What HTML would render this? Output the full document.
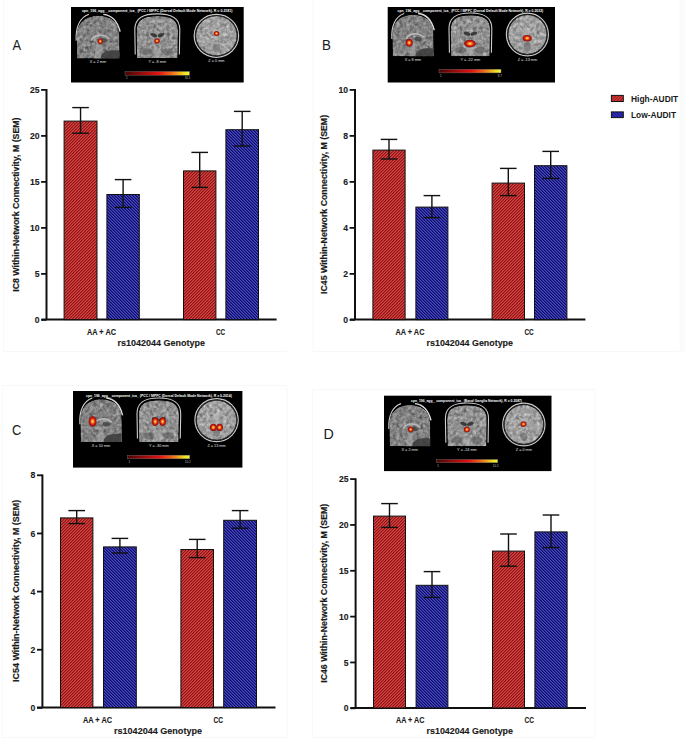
<!DOCTYPE html><html><head><meta charset="utf-8"><style>html,body{margin:0;padding:0;background:#fff;}svg{display:block}</style></head><body>
<svg width="685" height="742" viewBox="0 0 685 742" font-family='"Liberation Sans", sans-serif'>
<defs><pattern id="hR" patternUnits="userSpaceOnUse" x="0" y="0" width="3" height="3"><rect x="0" y="0" width="1" height="1" fill="#8c1616"/><rect x="1" y="0" width="1" height="1" fill="#bc2e2e"/><rect x="2" y="0" width="1" height="1" fill="#d24444"/><rect x="0" y="1" width="1" height="1" fill="#bc2e2e"/><rect x="1" y="1" width="1" height="1" fill="#d24444"/><rect x="2" y="1" width="1" height="1" fill="#8c1616"/><rect x="0" y="2" width="1" height="1" fill="#d24444"/><rect x="1" y="2" width="1" height="1" fill="#8c1616"/><rect x="2" y="2" width="1" height="1" fill="#bc2e2e"/></pattern><pattern id="hB" patternUnits="userSpaceOnUse" x="0" y="0" width="3" height="3"><rect x="0" y="0" width="1" height="1" fill="#0a0a68"/><rect x="1" y="0" width="1" height="1" fill="#2c2c9a"/><rect x="2" y="0" width="1" height="1" fill="#4a4aba"/><rect x="0" y="1" width="1" height="1" fill="#4a4aba"/><rect x="1" y="1" width="1" height="1" fill="#0a0a68"/><rect x="2" y="1" width="1" height="1" fill="#2c2c9a"/><rect x="0" y="2" width="1" height="1" fill="#2c2c9a"/><rect x="1" y="2" width="1" height="1" fill="#4a4aba"/><rect x="2" y="2" width="1" height="1" fill="#0a0a68"/></pattern><pattern id="lR" patternUnits="userSpaceOnUse" width="2.1" height="4" patternTransform="rotate(45)"><rect width="2.1" height="4" fill="#9a1616"/><rect width="1.0" height="4" fill="#e04646"/></pattern><pattern id="lB" patternUnits="userSpaceOnUse" width="2.1" height="4" patternTransform="rotate(-45)"><rect width="2.1" height="4" fill="#0a0a78"/><rect width="1.0" height="4" fill="#4444d8"/></pattern><linearGradient id="cb" x1="0" x2="1" y1="0" y2="0"><stop offset="0" stop-color="#4a0404"/><stop offset="0.52" stop-color="#e41212"/><stop offset="0.72" stop-color="#f06818"/><stop offset="0.92" stop-color="#f2e020"/><stop offset="1" stop-color="#f6f63a"/></linearGradient><radialGradient id="gAx"><stop offset="0" stop-color="#8a8a8a"/><stop offset="1" stop-color="#a8a8a8"/></radialGradient><radialGradient id="gCor"><stop offset="0" stop-color="#8a8a8a"/><stop offset="1" stop-color="#a0a0a0"/></radialGradient><radialGradient id="gSag"><stop offset="0" stop-color="#8a8a8a"/><stop offset="1" stop-color="#9a9a9a"/></radialGradient><filter id="tex" x="0" y="0" width="100%" height="100%" color-interpolation-filters="sRGB"><feTurbulence type="fractalNoise" baseFrequency="0.3" numOctaves="3" seed="7" result="n"/><feColorMatrix in="n" type="matrix" values="0.33 0.33 0.33 0 0 0.33 0.33 0.33 0 0 0.33 0.33 0.33 0 0 0 0 0 0 1" result="g"/><feComposite in="SourceGraphic" in2="g" operator="arithmetic" k1="0" k2="1" k3="0.9" k4="-0.45" result="m"/><feComposite in="m" in2="SourceGraphic" operator="in"/></filter><radialGradient id="blobG"><stop offset="0" stop-color="#ffe868"/><stop offset="0.25" stop-color="#f8a030"/><stop offset="0.55" stop-color="#e02a10"/><stop offset="0.85" stop-color="#a01010"/><stop offset="1" stop-color="#701010" stop-opacity="0.85"/></radialGradient></defs>
<g stroke="#f8f8f8" stroke-width="1" fill="none"><polyline points="3.5,0 3.5,351.5 287,351.5"/><polyline points="313,0 313,351.5 679.5,351.5"/><polyline points="2.5,385.5 2.5,737.5 287,737.5 287,385.5 2.5,385.5"/><polyline points="312.5,389.5 312.5,737.5 595,737.5 595,389.5 312.5,389.5"/></g>
<rect x="679.5" y="0" width="6" height="351.5" fill="#fbfbfb"/>
<text transform="translate(12.6,50.4) scale(0.83,1)" x="0" y="0" font-size="15.5" fill="#1a1a1a">A</text>
<rect x="71" y="7" width="172.7" height="75.5" fill="#000"/>
<path d="M77.11,58.4 L76.66,36.15 C76.66,21.91 86.62,15.68 97.95,15.68 C110.63,15.68 119.24,21.91 119.24,33.93 L119.69,58.4 Z" fill="#828282" filter="url(#tex)"/><path d="M76.21,40.6 C75.3,27.25 79.83,17.46 88.89,14.35" fill="none" stroke="#cfcfcf" stroke-width="1.1"/><path d="M103.39,14.35 C111.54,15.23 117.43,20.57 120.15,31.7" fill="none" stroke="#dedede" stroke-width="1.4"/><path d="M100.22,58.4 C101.57,51.72 107.01,49.5 119.24,50.39 L119.24,58.4 Z" fill="#3a3a3a" opacity="0.85"/><path d="M91.16,40.6 C93.42,34.37 103.39,33.48 109.27,38.82" fill="none" stroke="#b8b8b8" stroke-width="1.6"/><ellipse cx="103.39" cy="40.6" rx="3.62" ry="2.23" fill="#3a3a3a" opacity="0.7"/><path d="M96.14,44.16 L94.33,58.4 L100.67,58.4 L100.67,45.05 Z" fill="#a6a6a6" opacity="0.6"/>
<path d="M137.05,58 L136.6,30.66 C136.6,19.19 144.7,16.11 157.3,16.11 C169.9,16.11 178,19.19 178,30.66 L177.55,58 Z" fill="#929292" filter="url(#tex)"/><path d="M135.25,54.47 L134.8,29.78 C134.8,17.43 143.8,13.9 157.3,13.9 C170.8,13.9 179.8,17.43 179.8,29.78 L179.35,54.47" fill="none" stroke="#cdcdcd" stroke-width="1.1"/><ellipse cx="153.7" cy="35.07" rx="3.6" ry="1.76" fill="#2c2c2c" opacity="0.85" transform="rotate(20 153.7 35.07)"/><ellipse cx="160.9" cy="35.07" rx="3.6" ry="1.76" fill="#2c2c2c" opacity="0.85" transform="rotate(-20 160.9 35.07)"/><ellipse cx="146.95" cy="51.83" rx="5.85" ry="3.53" fill="#5a5a5a" opacity="0.55"/><ellipse cx="167.65" cy="51.83" rx="5.85" ry="3.53" fill="#5a5a5a" opacity="0.55"/><ellipse cx="157.3" cy="52.71" rx="3.6" ry="4.41" fill="#b0b0b0" opacity="0.5"/>
<ellipse cx="216.4" cy="35.8" rx="22.2" ry="21.5" fill="none" stroke="#c8c8c8" stroke-width="1.2"/><ellipse cx="216.4" cy="35.8" rx="21.2" ry="20.5" fill="#303030"/><ellipse cx="216.4" cy="35.8" rx="20.4" ry="19.7" fill="#a0a0a0" filter="url(#tex)"/><path d="M210.07,27.04 Q216.4,32.3 222.73,27.04 L219.11,32.3 L217.3,40.18 L215.5,40.18 L213.69,32.3 Z" fill="#bdbdbd" opacity="0.6"/><ellipse cx="216.4" cy="48.06" rx="3.62" ry="4.38" fill="#6a6a6a" opacity="0.6"/>
<ellipse cx="100.3" cy="41.3" rx="2.6" ry="3" fill="url(#blobG)"/>
<ellipse cx="157" cy="40.9" rx="2.8" ry="2.6" fill="url(#blobG)"/>
<ellipse cx="216.5" cy="33.5" rx="2.8" ry="2.5" fill="url(#blobG)"/>
<text x="81.9" y="12.2" font-size="3.8" font-weight="bold" fill="#ffffff" textLength="150.6" lengthAdjust="spacingAndGlyphs">cpn_196_agg__component_ica_ (PCC / MPFC (Dorsal Default Mode Network), R = 0.2181)</text>
<text x="97.95" y="63" font-size="3.8" fill="#e0e0e0" text-anchor="middle">X = 2 mm</text>
<text x="157.3" y="62.6" font-size="3.8" fill="#e0e0e0" text-anchor="middle">Y = -8 mm</text>
<text x="216.4" y="62.3" font-size="3.8" fill="#e0e0e0" text-anchor="middle">Z = 0 mm</text>
<rect x="125" y="71.5" width="64.5" height="3.7" fill="url(#cb)" stroke="#777" stroke-width="0.4"/>
<text x="126" y="79" font-size="3" fill="#bbb">1</text>
<text x="190.5" y="79" font-size="3" fill="#bbb" text-anchor="end">10.1</text>
<line x1="46.5" y1="89.1" x2="46.5" y2="319.6" stroke="#111" stroke-width="2"/>
<line x1="41.6" y1="319.6" x2="276.6" y2="319.6" stroke="#111" stroke-width="2"/>
<line x1="41.1" y1="319.9" x2="46.5" y2="319.9" stroke="#111" stroke-width="1.8"/>
<text x="39.5" y="323.1" font-size="9.8" font-weight="bold" text-anchor="end" fill="#1a1a1a" stroke="#1a1a1a" stroke-width="0.12" transform="translate(39.5,0) scale(0.88,1) translate(-39.5,0)">0</text>
<line x1="41.1" y1="273.9" x2="46.5" y2="273.9" stroke="#111" stroke-width="1.8"/>
<text x="39.5" y="277.1" font-size="9.8" font-weight="bold" text-anchor="end" fill="#1a1a1a" stroke="#1a1a1a" stroke-width="0.12" transform="translate(39.5,0) scale(0.88,1) translate(-39.5,0)">5</text>
<line x1="41.1" y1="227.9" x2="46.5" y2="227.9" stroke="#111" stroke-width="1.8"/>
<text x="39.5" y="231.1" font-size="9.8" font-weight="bold" text-anchor="end" fill="#1a1a1a" stroke="#1a1a1a" stroke-width="0.12" transform="translate(39.5,0) scale(0.88,1) translate(-39.5,0)">10</text>
<line x1="41.1" y1="181.9" x2="46.5" y2="181.9" stroke="#111" stroke-width="1.8"/>
<text x="39.5" y="185.1" font-size="9.8" font-weight="bold" text-anchor="end" fill="#1a1a1a" stroke="#1a1a1a" stroke-width="0.12" transform="translate(39.5,0) scale(0.88,1) translate(-39.5,0)">15</text>
<line x1="41.1" y1="135.9" x2="46.5" y2="135.9" stroke="#111" stroke-width="1.8"/>
<text x="39.5" y="139.1" font-size="9.8" font-weight="bold" text-anchor="end" fill="#1a1a1a" stroke="#1a1a1a" stroke-width="0.12" transform="translate(39.5,0) scale(0.88,1) translate(-39.5,0)">20</text>
<line x1="41.1" y1="89.9" x2="46.5" y2="89.9" stroke="#111" stroke-width="1.8"/>
<text x="39.5" y="93.1" font-size="9.8" font-weight="bold" text-anchor="end" fill="#1a1a1a" stroke="#1a1a1a" stroke-width="0.12" transform="translate(39.5,0) scale(0.88,1) translate(-39.5,0)">25</text>
<rect x="64.1" y="121.1" width="32.9" height="198.5" fill="url(#hR)" stroke="#111" stroke-width="1"/>
<line x1="80.55" y1="107.6" x2="80.55" y2="133.2" stroke="#111" stroke-width="1.4"/>
<line x1="72.25" y1="107.6" x2="88.85" y2="107.6" stroke="#111" stroke-width="1.4"/>
<line x1="72.25" y1="133.2" x2="88.85" y2="133.2" stroke="#111" stroke-width="1.4"/>
<rect x="106.9" y="194.5" width="32.4" height="125.1" fill="url(#hB)" stroke="#111" stroke-width="1"/>
<line x1="123.1" y1="179.6" x2="123.1" y2="207.4" stroke="#111" stroke-width="1.4"/>
<line x1="114.8" y1="179.6" x2="131.4" y2="179.6" stroke="#111" stroke-width="1.4"/>
<line x1="114.8" y1="207.4" x2="131.4" y2="207.4" stroke="#111" stroke-width="1.4"/>
<rect x="183.5" y="170.9" width="32.4" height="148.7" fill="url(#hR)" stroke="#111" stroke-width="1"/>
<line x1="199.7" y1="152.4" x2="199.7" y2="187.4" stroke="#111" stroke-width="1.4"/>
<line x1="191.4" y1="152.4" x2="208" y2="152.4" stroke="#111" stroke-width="1.4"/>
<line x1="191.4" y1="187.4" x2="208" y2="187.4" stroke="#111" stroke-width="1.4"/>
<rect x="225.9" y="129.7" width="32.6" height="189.9" fill="url(#hB)" stroke="#111" stroke-width="1"/>
<line x1="242.2" y1="111.4" x2="242.2" y2="146" stroke="#111" stroke-width="1.4"/>
<line x1="233.9" y1="111.4" x2="250.5" y2="111.4" stroke="#111" stroke-width="1.4"/>
<line x1="233.9" y1="146" x2="250.5" y2="146" stroke="#111" stroke-width="1.4"/>
<text x="87" y="335" font-size="9" font-weight="bold" stroke="#1a1a1a" stroke-width="0.12" textLength="29" lengthAdjust="spacingAndGlyphs" fill="#1a1a1a">AA + AC</text>
<text x="216" y="335" font-size="9" font-weight="bold" stroke="#1a1a1a" stroke-width="0.12" textLength="9" lengthAdjust="spacingAndGlyphs" fill="#1a1a1a">CC</text>
<text x="117.6" y="345.6" font-size="9" font-weight="bold" stroke="#1a1a1a" stroke-width="0.12" textLength="87.4" lengthAdjust="spacingAndGlyphs" fill="#1a1a1a">rs1042044 Genotype</text>
<text transform="translate(18.8,291.8) rotate(-90)" x="0" y="0" font-size="8.6" font-weight="bold" stroke="#1a1a1a" stroke-width="0.18" textLength="174.3" lengthAdjust="spacingAndGlyphs" fill="#1a1a1a">IC8 Within-Network Connectivity, M (SEM)</text>
<text transform="translate(322,50.1) scale(0.86,1)" x="0" y="0" font-size="15.5" fill="#1a1a1a">B</text>
<rect x="387.7" y="7" width="167.3" height="75.5" fill="#000"/>
<path d="M392.75,56.2 L392.31,34.6 C392.31,20.78 401.93,14.73 412.85,14.73 C425.09,14.73 433.39,20.78 433.39,32.44 L433.83,56.2 Z" fill="#828282" filter="url(#tex)"/><path d="M391.87,38.92 C391,25.96 395.37,16.46 404.11,13.43" fill="none" stroke="#cfcfcf" stroke-width="1.1"/><path d="M418.09,13.43 C425.96,14.3 431.64,19.48 434.26,30.28" fill="none" stroke="#dedede" stroke-width="1.4"/><path d="M415.03,56.2 C416.35,49.72 421.59,47.56 433.39,48.42 L433.39,56.2 Z" fill="#3a3a3a" opacity="0.85"/><path d="M406.3,38.92 C408.48,32.87 418.09,32.01 423.77,37.19" fill="none" stroke="#b8b8b8" stroke-width="1.6"/><ellipse cx="418.09" cy="38.92" rx="3.5" ry="2.16" fill="#3a3a3a" opacity="0.7"/><path d="M411.1,42.38 L409.35,56.2 L415.47,56.2 L415.47,43.24 Z" fill="#a6a6a6" opacity="0.6"/>
<path d="M451.14,56.2 L450.71,29.42 C450.71,18.18 458.42,15.16 470.4,15.16 C482.38,15.16 490.09,18.18 490.09,29.42 L489.66,56.2 Z" fill="#929292" filter="url(#tex)"/><path d="M449.43,52.74 L449,28.55 C449,16.46 457.56,13 470.4,13 C483.24,13 491.8,16.46 491.8,28.55 L491.37,52.74" fill="none" stroke="#cdcdcd" stroke-width="1.1"/><ellipse cx="466.98" cy="33.74" rx="3.42" ry="1.73" fill="#2c2c2c" opacity="0.85" transform="rotate(20 466.98 33.74)"/><ellipse cx="473.82" cy="33.74" rx="3.42" ry="1.73" fill="#2c2c2c" opacity="0.85" transform="rotate(-20 473.82 33.74)"/><ellipse cx="460.56" cy="50.15" rx="5.56" ry="3.46" fill="#5a5a5a" opacity="0.55"/><ellipse cx="480.24" cy="50.15" rx="5.56" ry="3.46" fill="#5a5a5a" opacity="0.55"/><ellipse cx="470.4" cy="51.02" rx="3.42" ry="4.32" fill="#b0b0b0" opacity="0.5"/>
<ellipse cx="527.4" cy="34.5" rx="21" ry="21.3" fill="none" stroke="#c8c8c8" stroke-width="1.2"/><ellipse cx="527.4" cy="34.5" rx="20" ry="20.3" fill="#303030"/><ellipse cx="527.4" cy="34.5" rx="19.2" ry="19.5" fill="#a0a0a0" filter="url(#tex)"/><path d="M521.41,25.82 Q527.4,31.03 533.39,25.82 L529.97,31.03 L528.26,38.84 L526.54,38.84 L524.83,31.03 Z" fill="#bdbdbd" opacity="0.6"/><ellipse cx="527.4" cy="46.65" rx="3.42" ry="4.34" fill="#6a6a6a" opacity="0.6"/>
<ellipse cx="409.2" cy="42.8" rx="3.6" ry="4" fill="url(#blobG)"/>
<ellipse cx="470" cy="43.6" rx="6" ry="3.8" fill="url(#blobG)"/>
<ellipse cx="527.2" cy="38.2" rx="4.6" ry="3.2" fill="url(#blobG)"/>
<text x="397.5" y="12" font-size="3.8" font-weight="bold" fill="#ffffff" textLength="145.7" lengthAdjust="spacingAndGlyphs">cpn_196_agg__component_ica_ (PCC / MPFC (Dorsal Default Mode Network), R = 0.2032)</text>
<text x="412.85" y="60.8" font-size="3.8" fill="#e0e0e0" text-anchor="middle">X = 8 mm</text>
<text x="470.4" y="60.8" font-size="3.8" fill="#e0e0e0" text-anchor="middle">Y = -22 mm</text>
<text x="527.4" y="60.8" font-size="3.8" fill="#e0e0e0" text-anchor="middle">Z = -13 mm</text>
<rect x="439" y="69.3" width="62" height="3.6" fill="url(#cb)" stroke="#777" stroke-width="0.4"/>
<text x="440" y="76.7" font-size="3" fill="#bbb">1</text>
<text x="502" y="76.7" font-size="3" fill="#bbb" text-anchor="end">8.7</text>
<line x1="355" y1="89.1" x2="355" y2="319.6" stroke="#111" stroke-width="2"/>
<line x1="350" y1="319.6" x2="585.4" y2="319.6" stroke="#111" stroke-width="2"/>
<line x1="349.6" y1="319.9" x2="355" y2="319.9" stroke="#111" stroke-width="1.8"/>
<text x="348" y="323.1" font-size="9.8" font-weight="bold" text-anchor="end" fill="#1a1a1a" stroke="#1a1a1a" stroke-width="0.12" transform="translate(348,0) scale(0.88,1) translate(-348,0)">0</text>
<line x1="349.6" y1="273.9" x2="355" y2="273.9" stroke="#111" stroke-width="1.8"/>
<text x="348" y="277.1" font-size="9.8" font-weight="bold" text-anchor="end" fill="#1a1a1a" stroke="#1a1a1a" stroke-width="0.12" transform="translate(348,0) scale(0.88,1) translate(-348,0)">2</text>
<line x1="349.6" y1="227.9" x2="355" y2="227.9" stroke="#111" stroke-width="1.8"/>
<text x="348" y="231.1" font-size="9.8" font-weight="bold" text-anchor="end" fill="#1a1a1a" stroke="#1a1a1a" stroke-width="0.12" transform="translate(348,0) scale(0.88,1) translate(-348,0)">4</text>
<line x1="349.6" y1="181.9" x2="355" y2="181.9" stroke="#111" stroke-width="1.8"/>
<text x="348" y="185.1" font-size="9.8" font-weight="bold" text-anchor="end" fill="#1a1a1a" stroke="#1a1a1a" stroke-width="0.12" transform="translate(348,0) scale(0.88,1) translate(-348,0)">6</text>
<line x1="349.6" y1="135.9" x2="355" y2="135.9" stroke="#111" stroke-width="1.8"/>
<text x="348" y="139.1" font-size="9.8" font-weight="bold" text-anchor="end" fill="#1a1a1a" stroke="#1a1a1a" stroke-width="0.12" transform="translate(348,0) scale(0.88,1) translate(-348,0)">8</text>
<line x1="349.6" y1="89.9" x2="355" y2="89.9" stroke="#111" stroke-width="1.8"/>
<text x="348" y="93.1" font-size="9.8" font-weight="bold" text-anchor="end" fill="#1a1a1a" stroke="#1a1a1a" stroke-width="0.12" transform="translate(348,0) scale(0.88,1) translate(-348,0)">10</text>
<rect x="372.9" y="150.1" width="32.2" height="169.5" fill="url(#hR)" stroke="#111" stroke-width="1"/>
<line x1="389" y1="139.4" x2="389" y2="159" stroke="#111" stroke-width="1.4"/>
<line x1="380.7" y1="139.4" x2="397.3" y2="139.4" stroke="#111" stroke-width="1.4"/>
<line x1="380.7" y1="159" x2="397.3" y2="159" stroke="#111" stroke-width="1.4"/>
<rect x="415.9" y="207.1" width="32" height="112.5" fill="url(#hB)" stroke="#111" stroke-width="1"/>
<line x1="431.9" y1="195.6" x2="431.9" y2="217.6" stroke="#111" stroke-width="1.4"/>
<line x1="423.6" y1="195.6" x2="440.2" y2="195.6" stroke="#111" stroke-width="1.4"/>
<line x1="423.6" y1="217.6" x2="440.2" y2="217.6" stroke="#111" stroke-width="1.4"/>
<rect x="492.1" y="183.1" width="32.4" height="136.5" fill="url(#hR)" stroke="#111" stroke-width="1"/>
<line x1="508.3" y1="168.4" x2="508.3" y2="195.6" stroke="#111" stroke-width="1.4"/>
<line x1="500" y1="168.4" x2="516.6" y2="168.4" stroke="#111" stroke-width="1.4"/>
<line x1="500" y1="195.6" x2="516.6" y2="195.6" stroke="#111" stroke-width="1.4"/>
<rect x="534.5" y="165.7" width="32.4" height="153.9" fill="url(#hB)" stroke="#111" stroke-width="1"/>
<line x1="550.7" y1="151.4" x2="550.7" y2="178.4" stroke="#111" stroke-width="1.4"/>
<line x1="542.4" y1="151.4" x2="559" y2="151.4" stroke="#111" stroke-width="1.4"/>
<line x1="542.4" y1="178.4" x2="559" y2="178.4" stroke="#111" stroke-width="1.4"/>
<text x="395.6" y="335" font-size="9" font-weight="bold" stroke="#1a1a1a" stroke-width="0.12" textLength="28.8" lengthAdjust="spacingAndGlyphs" fill="#1a1a1a">AA + AC</text>
<text x="524.4" y="335" font-size="9" font-weight="bold" stroke="#1a1a1a" stroke-width="0.12" textLength="9.2" lengthAdjust="spacingAndGlyphs" fill="#1a1a1a">CC</text>
<text x="426.6" y="345.6" font-size="9" font-weight="bold" stroke="#1a1a1a" stroke-width="0.12" textLength="86.4" lengthAdjust="spacingAndGlyphs" fill="#1a1a1a">rs1042044 Genotype</text>
<text transform="translate(327.3,294) rotate(-90)" x="0" y="0" font-size="8.6" font-weight="bold" stroke="#1a1a1a" stroke-width="0.18" textLength="179.1" lengthAdjust="spacingAndGlyphs" fill="#1a1a1a">IC45 Within-Network Connectivity, M (SEM)</text>
<text transform="translate(12,434.8) scale(0.83,1)" x="0" y="0" font-size="15.5" fill="#1a1a1a">C</text>
<rect x="73" y="391" width="169.4" height="76.6" fill="#000"/>
<path d="M80.76,442 L80.32,419.75 C80.32,405.51 90,399.28 101,399.28 C113.32,399.28 121.68,405.51 121.68,417.52 L122.12,442 Z" fill="#828282" filter="url(#tex)"/><path d="M79.88,424.2 C79,410.85 83.4,401.06 92.2,397.94" fill="none" stroke="#cfcfcf" stroke-width="1.1"/><path d="M106.28,397.94 C114.2,398.83 119.92,404.18 122.56,415.3" fill="none" stroke="#dedede" stroke-width="1.4"/><path d="M103.2,442 C104.52,435.32 109.8,433.1 121.68,433.99 L121.68,442 Z" fill="#3a3a3a" opacity="0.85"/><path d="M94.4,424.2 C96.6,417.97 106.28,417.08 112,422.42" fill="none" stroke="#b8b8b8" stroke-width="1.6"/><ellipse cx="106.28" cy="424.2" rx="3.52" ry="2.23" fill="#3a3a3a" opacity="0.7"/><path d="M99.24,427.76 L97.48,442 L103.64,442 L103.64,428.65 Z" fill="#a6a6a6" opacity="0.6"/>
<path d="M139.19,442 L138.75,414.72 C138.75,403.28 146.61,400.2 158.85,400.2 C171.09,400.2 178.95,403.28 178.95,414.72 L178.51,442 Z" fill="#929292" filter="url(#tex)"/><path d="M137.44,438.48 L137,413.84 C137,401.52 145.74,398 158.85,398 C171.96,398 180.7,401.52 180.7,413.84 L180.26,438.48" fill="none" stroke="#cdcdcd" stroke-width="1.1"/><ellipse cx="155.35" cy="419.12" rx="3.5" ry="1.76" fill="#2c2c2c" opacity="0.85" transform="rotate(20 155.35 419.12)"/><ellipse cx="162.35" cy="419.12" rx="3.5" ry="1.76" fill="#2c2c2c" opacity="0.85" transform="rotate(-20 162.35 419.12)"/><ellipse cx="148.8" cy="435.84" rx="5.68" ry="3.52" fill="#5a5a5a" opacity="0.55"/><ellipse cx="168.9" cy="435.84" rx="5.68" ry="3.52" fill="#5a5a5a" opacity="0.55"/><ellipse cx="158.85" cy="436.72" rx="3.5" ry="4.4" fill="#b0b0b0" opacity="0.5"/>
<ellipse cx="216.55" cy="420.1" rx="21.65" ry="21.5" fill="none" stroke="#c8c8c8" stroke-width="1.2"/><ellipse cx="216.55" cy="420.1" rx="20.65" ry="20.5" fill="#303030"/><ellipse cx="216.55" cy="420.1" rx="19.85" ry="19.7" fill="#a0a0a0" filter="url(#tex)"/><path d="M210.38,411.34 Q216.55,416.6 222.72,411.34 L219.2,416.6 L217.43,424.48 L215.67,424.48 L213.9,416.6 Z" fill="#bdbdbd" opacity="0.6"/><ellipse cx="216.55" cy="432.36" rx="3.53" ry="4.38" fill="#6a6a6a" opacity="0.6"/>
<ellipse cx="92.6" cy="421.4" rx="4" ry="5.4" fill="url(#blobG)"/>
<ellipse cx="155.2" cy="421.6" rx="3.4" ry="4.4" fill="url(#blobG)"/>
<ellipse cx="162.6" cy="421.6" rx="3.4" ry="4.4" fill="url(#blobG)"/>
<ellipse cx="213.3" cy="427.4" rx="3.4" ry="3.6" fill="url(#blobG)"/>
<ellipse cx="219.6" cy="427.4" rx="3.4" ry="3.6" fill="url(#blobG)"/>
<text x="86" y="396.8" font-size="3.8" font-weight="bold" fill="#ffffff" textLength="145.8" lengthAdjust="spacingAndGlyphs">cpn_196_agg__component_ica_ (PCC / MPFC (Dorsal Default Mode Network), R = 0.2014)</text>
<text x="101" y="446.6" font-size="3.8" fill="#e0e0e0" text-anchor="middle">X = 10 mm</text>
<text x="158.85" y="446.6" font-size="3.8" fill="#e0e0e0" text-anchor="middle">Y = -30 mm</text>
<text x="216.55" y="446.6" font-size="3.8" fill="#e0e0e0" text-anchor="middle">Z = 13 mm</text>
<rect x="127.4" y="455.2" width="62.3" height="3.6" fill="url(#cb)" stroke="#777" stroke-width="0.4"/>
<text x="128.4" y="462.6" font-size="3" fill="#bbb">1</text>
<text x="190.7" y="462.6" font-size="3" fill="#bbb" text-anchor="end">10.2</text>
<line x1="42.4" y1="474.5" x2="42.4" y2="707.6" stroke="#111" stroke-width="2"/>
<line x1="37" y1="707.6" x2="275.5" y2="707.6" stroke="#111" stroke-width="2"/>
<line x1="37" y1="707.9" x2="42.4" y2="707.9" stroke="#111" stroke-width="1.8"/>
<text x="35.4" y="711.1" font-size="9.8" font-weight="bold" text-anchor="end" fill="#1a1a1a" stroke="#1a1a1a" stroke-width="0.12" transform="translate(35.4,0) scale(0.88,1) translate(-35.4,0)">0</text>
<line x1="37" y1="649.75" x2="42.4" y2="649.75" stroke="#111" stroke-width="1.8"/>
<text x="35.4" y="652.95" font-size="9.8" font-weight="bold" text-anchor="end" fill="#1a1a1a" stroke="#1a1a1a" stroke-width="0.12" transform="translate(35.4,0) scale(0.88,1) translate(-35.4,0)">2</text>
<line x1="37" y1="591.6" x2="42.4" y2="591.6" stroke="#111" stroke-width="1.8"/>
<text x="35.4" y="594.8" font-size="9.8" font-weight="bold" text-anchor="end" fill="#1a1a1a" stroke="#1a1a1a" stroke-width="0.12" transform="translate(35.4,0) scale(0.88,1) translate(-35.4,0)">4</text>
<line x1="37" y1="533.45" x2="42.4" y2="533.45" stroke="#111" stroke-width="1.8"/>
<text x="35.4" y="536.65" font-size="9.8" font-weight="bold" text-anchor="end" fill="#1a1a1a" stroke="#1a1a1a" stroke-width="0.12" transform="translate(35.4,0) scale(0.88,1) translate(-35.4,0)">6</text>
<line x1="37" y1="475.3" x2="42.4" y2="475.3" stroke="#111" stroke-width="1.8"/>
<text x="35.4" y="478.5" font-size="9.8" font-weight="bold" text-anchor="end" fill="#1a1a1a" stroke="#1a1a1a" stroke-width="0.12" transform="translate(35.4,0) scale(0.88,1) translate(-35.4,0)">8</text>
<rect x="60.5" y="517.9" width="32.4" height="189.7" fill="url(#hR)" stroke="#111" stroke-width="1"/>
<line x1="76.7" y1="510.6" x2="76.7" y2="523.6" stroke="#111" stroke-width="1.4"/>
<line x1="68.4" y1="510.6" x2="85" y2="510.6" stroke="#111" stroke-width="1.4"/>
<line x1="68.4" y1="523.6" x2="85" y2="523.6" stroke="#111" stroke-width="1.4"/>
<rect x="103.5" y="546.9" width="32.8" height="160.7" fill="url(#hB)" stroke="#111" stroke-width="1"/>
<line x1="119.9" y1="538.4" x2="119.9" y2="553" stroke="#111" stroke-width="1.4"/>
<line x1="111.6" y1="538.4" x2="128.2" y2="538.4" stroke="#111" stroke-width="1.4"/>
<line x1="111.6" y1="553" x2="128.2" y2="553" stroke="#111" stroke-width="1.4"/>
<rect x="180.9" y="549.5" width="32.6" height="158.1" fill="url(#hR)" stroke="#111" stroke-width="1"/>
<line x1="197.2" y1="539.4" x2="197.2" y2="557.6" stroke="#111" stroke-width="1.4"/>
<line x1="188.9" y1="539.4" x2="205.5" y2="539.4" stroke="#111" stroke-width="1.4"/>
<line x1="188.9" y1="557.6" x2="205.5" y2="557.6" stroke="#111" stroke-width="1.4"/>
<rect x="223.7" y="520.3" width="32.8" height="187.3" fill="url(#hB)" stroke="#111" stroke-width="1"/>
<line x1="240.1" y1="510.6" x2="240.1" y2="528.2" stroke="#111" stroke-width="1.4"/>
<line x1="231.8" y1="510.6" x2="248.4" y2="510.6" stroke="#111" stroke-width="1.4"/>
<line x1="231.8" y1="528.2" x2="248.4" y2="528.2" stroke="#111" stroke-width="1.4"/>
<text x="83" y="723" font-size="9" font-weight="bold" stroke="#1a1a1a" stroke-width="0.12" textLength="29" lengthAdjust="spacingAndGlyphs" fill="#1a1a1a">AA + AC</text>
<text x="213.6" y="723" font-size="9" font-weight="bold" stroke="#1a1a1a" stroke-width="0.12" textLength="9.5" lengthAdjust="spacingAndGlyphs" fill="#1a1a1a">CC</text>
<text x="114" y="734" font-size="9" font-weight="bold" stroke="#1a1a1a" stroke-width="0.12" textLength="88" lengthAdjust="spacingAndGlyphs" fill="#1a1a1a">rs1042044 Genotype</text>
<text transform="translate(18.8,681.9) rotate(-90)" x="0" y="0" font-size="8.6" font-weight="bold" stroke="#1a1a1a" stroke-width="0.18" textLength="182" lengthAdjust="spacingAndGlyphs" fill="#1a1a1a">IC54 Within-Network Connectivity, M (SEM)</text>
<text transform="translate(323.4,438.9) scale(0.92,1)" x="0" y="0" font-size="15.5" fill="#1a1a1a">D</text>
<rect x="384" y="395.7" width="167.5" height="75.4" fill="#000"/>
<path d="M389.74,446.3 L389.3,424.75 C389.3,410.96 398.85,404.92 409.7,404.92 C421.85,404.92 430.1,410.96 430.1,422.6 L430.53,446.3 Z" fill="#828282" filter="url(#tex)"/><path d="M388.87,429.06 C388,416.13 392.34,406.65 401.02,403.63" fill="none" stroke="#cfcfcf" stroke-width="1.1"/><path d="M414.91,403.63 C422.72,404.49 428.36,409.66 430.97,420.44" fill="none" stroke="#dedede" stroke-width="1.4"/><path d="M411.87,446.3 C413.17,439.84 418.38,437.68 430.1,438.54 L430.1,446.3 Z" fill="#3a3a3a" opacity="0.85"/><path d="M403.19,429.06 C405.36,423.03 414.91,422.16 420.55,427.34" fill="none" stroke="#b8b8b8" stroke-width="1.6"/><ellipse cx="414.91" cy="429.06" rx="3.47" ry="2.16" fill="#3a3a3a" opacity="0.7"/><path d="M407.96,432.51 L406.23,446.3 L412.3,446.3 L412.3,433.37 Z" fill="#a6a6a6" opacity="0.6"/>
<path d="M447.55,446.3 L447.12,419.45 C447.12,408.2 454.88,405.17 466.95,405.17 C479.02,405.17 486.78,408.2 486.78,419.45 L486.35,446.3 Z" fill="#929292" filter="url(#tex)"/><path d="M445.83,442.84 L445.4,418.59 C445.4,406.46 454.02,403 466.95,403 C479.88,403 488.5,406.46 488.5,418.59 L488.07,442.84" fill="none" stroke="#cdcdcd" stroke-width="1.1"/><ellipse cx="463.5" cy="423.78" rx="3.45" ry="1.73" fill="#2c2c2c" opacity="0.85" transform="rotate(20 463.5 423.78)"/><ellipse cx="470.4" cy="423.78" rx="3.45" ry="1.73" fill="#2c2c2c" opacity="0.85" transform="rotate(-20 470.4 423.78)"/><ellipse cx="457.04" cy="440.24" rx="5.6" ry="3.46" fill="#5a5a5a" opacity="0.55"/><ellipse cx="476.86" cy="440.24" rx="5.6" ry="3.46" fill="#5a5a5a" opacity="0.55"/><ellipse cx="466.95" cy="441.1" rx="3.45" ry="4.33" fill="#b0b0b0" opacity="0.5"/>
<ellipse cx="523.85" cy="424.55" rx="21.15" ry="21.35" fill="none" stroke="#c8c8c8" stroke-width="1.2"/><ellipse cx="523.85" cy="424.55" rx="20.15" ry="20.35" fill="#303030"/><ellipse cx="523.85" cy="424.55" rx="19.35" ry="19.55" fill="#a0a0a0" filter="url(#tex)"/><path d="M517.82,415.85 Q523.85,421.07 529.88,415.85 L526.44,421.07 L524.71,428.9 L522.99,428.9 L521.26,421.07 Z" fill="#bdbdbd" opacity="0.6"/><ellipse cx="523.85" cy="436.73" rx="3.45" ry="4.35" fill="#6a6a6a" opacity="0.6"/>
<ellipse cx="410.7" cy="429.5" rx="2.6" ry="3" fill="url(#blobG)"/>
<ellipse cx="466.9" cy="429.5" rx="3" ry="3" fill="url(#blobG)"/>
<ellipse cx="523.5" cy="424.1" rx="3" ry="2.8" fill="url(#blobG)"/>
<text x="411.1" y="401.6" font-size="3.8" font-weight="bold" fill="#ffffff" textLength="110.9" lengthAdjust="spacingAndGlyphs">cpn_196_agg__component_ica_ (Basal Ganglia Network), R = 0.2087)</text>
<text x="409.7" y="450.9" font-size="3.8" fill="#e0e0e0" text-anchor="middle">X = 2 mm</text>
<text x="466.95" y="450.9" font-size="3.8" fill="#e0e0e0" text-anchor="middle">Y = -24 mm</text>
<text x="523.85" y="450.9" font-size="3.8" fill="#e0e0e0" text-anchor="middle">Z = 0 mm</text>
<rect x="436.2" y="459.5" width="61.5" height="3.2" fill="url(#cb)" stroke="#777" stroke-width="0.4"/>
<text x="437.2" y="466.5" font-size="3" fill="#bbb">1</text>
<text x="498.7" y="466.5" font-size="3" fill="#bbb" text-anchor="end">10.1</text>
<line x1="355.6" y1="478.3" x2="355.6" y2="708" stroke="#111" stroke-width="2"/>
<line x1="350.5" y1="708" x2="586" y2="708" stroke="#111" stroke-width="2"/>
<line x1="350.2" y1="708.3" x2="355.6" y2="708.3" stroke="#111" stroke-width="1.8"/>
<text x="348.6" y="711.5" font-size="9.8" font-weight="bold" text-anchor="end" fill="#1a1a1a" stroke="#1a1a1a" stroke-width="0.12" transform="translate(348.6,0) scale(0.88,1) translate(-348.6,0)">0</text>
<line x1="350.2" y1="662.46" x2="355.6" y2="662.46" stroke="#111" stroke-width="1.8"/>
<text x="348.6" y="665.66" font-size="9.8" font-weight="bold" text-anchor="end" fill="#1a1a1a" stroke="#1a1a1a" stroke-width="0.12" transform="translate(348.6,0) scale(0.88,1) translate(-348.6,0)">5</text>
<line x1="350.2" y1="616.62" x2="355.6" y2="616.62" stroke="#111" stroke-width="1.8"/>
<text x="348.6" y="619.82" font-size="9.8" font-weight="bold" text-anchor="end" fill="#1a1a1a" stroke="#1a1a1a" stroke-width="0.12" transform="translate(348.6,0) scale(0.88,1) translate(-348.6,0)">10</text>
<line x1="350.2" y1="570.78" x2="355.6" y2="570.78" stroke="#111" stroke-width="1.8"/>
<text x="348.6" y="573.98" font-size="9.8" font-weight="bold" text-anchor="end" fill="#1a1a1a" stroke="#1a1a1a" stroke-width="0.12" transform="translate(348.6,0) scale(0.88,1) translate(-348.6,0)">15</text>
<line x1="350.2" y1="524.94" x2="355.6" y2="524.94" stroke="#111" stroke-width="1.8"/>
<text x="348.6" y="528.14" font-size="9.8" font-weight="bold" text-anchor="end" fill="#1a1a1a" stroke="#1a1a1a" stroke-width="0.12" transform="translate(348.6,0) scale(0.88,1) translate(-348.6,0)">20</text>
<line x1="350.2" y1="479.1" x2="355.6" y2="479.1" stroke="#111" stroke-width="1.8"/>
<text x="348.6" y="482.3" font-size="9.8" font-weight="bold" text-anchor="end" fill="#1a1a1a" stroke="#1a1a1a" stroke-width="0.12" transform="translate(348.6,0) scale(0.88,1) translate(-348.6,0)">25</text>
<rect x="373.5" y="516.1" width="32" height="191.9" fill="url(#hR)" stroke="#111" stroke-width="1"/>
<line x1="389.5" y1="503.6" x2="389.5" y2="527.4" stroke="#111" stroke-width="1.4"/>
<line x1="381.2" y1="503.6" x2="397.8" y2="503.6" stroke="#111" stroke-width="1.4"/>
<line x1="381.2" y1="527.4" x2="397.8" y2="527.4" stroke="#111" stroke-width="1.4"/>
<rect x="416.1" y="585.3" width="31.8" height="122.7" fill="url(#hB)" stroke="#111" stroke-width="1"/>
<line x1="432" y1="571.6" x2="432" y2="597.4" stroke="#111" stroke-width="1.4"/>
<line x1="423.7" y1="571.6" x2="440.3" y2="571.6" stroke="#111" stroke-width="1.4"/>
<line x1="423.7" y1="597.4" x2="440.3" y2="597.4" stroke="#111" stroke-width="1.4"/>
<rect x="492.5" y="551.1" width="32" height="156.9" fill="url(#hR)" stroke="#111" stroke-width="1"/>
<line x1="508.5" y1="534" x2="508.5" y2="566.2" stroke="#111" stroke-width="1.4"/>
<line x1="500.2" y1="534" x2="516.8" y2="534" stroke="#111" stroke-width="1.4"/>
<line x1="500.2" y1="566.2" x2="516.8" y2="566.2" stroke="#111" stroke-width="1.4"/>
<rect x="534.9" y="531.9" width="32.2" height="176.1" fill="url(#hB)" stroke="#111" stroke-width="1"/>
<line x1="551" y1="515" x2="551" y2="547.6" stroke="#111" stroke-width="1.4"/>
<line x1="542.7" y1="515" x2="559.3" y2="515" stroke="#111" stroke-width="1.4"/>
<line x1="542.7" y1="547.6" x2="559.3" y2="547.6" stroke="#111" stroke-width="1.4"/>
<text x="396" y="723" font-size="9" font-weight="bold" stroke="#1a1a1a" stroke-width="0.12" textLength="28.4" lengthAdjust="spacingAndGlyphs" fill="#1a1a1a">AA + AC</text>
<text x="524.6" y="723" font-size="9" font-weight="bold" stroke="#1a1a1a" stroke-width="0.12" textLength="9.4" lengthAdjust="spacingAndGlyphs" fill="#1a1a1a">CC</text>
<text x="426.6" y="733.6" font-size="9" font-weight="bold" stroke="#1a1a1a" stroke-width="0.12" textLength="86.4" lengthAdjust="spacingAndGlyphs" fill="#1a1a1a">rs1042044 Genotype</text>
<text transform="translate(327.3,682.8) rotate(-90)" x="0" y="0" font-size="8.6" font-weight="bold" stroke="#1a1a1a" stroke-width="0.18" textLength="179" lengthAdjust="spacingAndGlyphs" fill="#1a1a1a">IC46 Within-Network Connectivity, M (SEM)</text>
<rect x="611.4" y="95.4" width="11.9" height="6.1" fill="url(#lR)" stroke="#111" stroke-width="1"/>
<rect x="611.4" y="111.9" width="11.9" height="5.7" fill="url(#lB)" stroke="#111" stroke-width="1"/>
<text x="631" y="101.8" font-size="8.6" font-weight="bold" textLength="47.2" lengthAdjust="spacingAndGlyphs" fill="#1a1a1a">High-AUDIT</text>
<text x="631" y="117.9" font-size="8.6" font-weight="bold" textLength="45" lengthAdjust="spacingAndGlyphs" fill="#1a1a1a">Low-AUDIT</text>
</svg></body></html>
